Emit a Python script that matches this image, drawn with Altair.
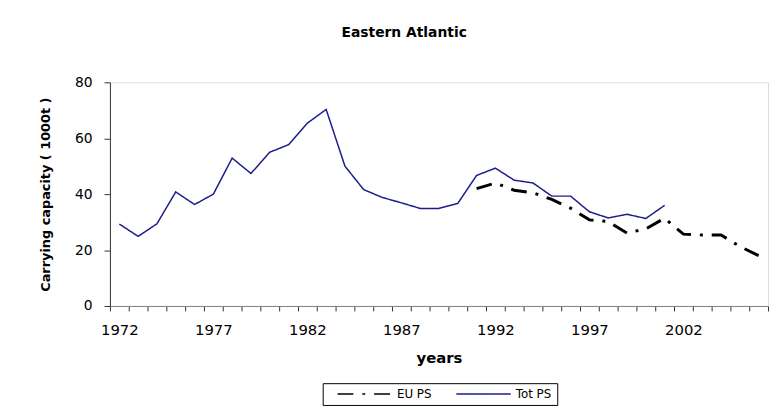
import altair as alt
import pandas as pd

years_tot = list(range(1972, 2002))
tot_ps = [29.3, 24.9, 29.4, 40.8, 36.3, 40.0, 52.9, 47.4, 55.0, 57.7,
          65.4, 70.3, 50.0, 41.6, 38.8, 36.9, 34.9, 34.9, 36.7, 46.7,
          49.3, 45.0, 44.0, 39.3, 39.3, 33.7, 31.5, 32.8, 31.3, 36.0]
years_eu = list(range(1991, 2007))
eu_ps = [42.0, 44.0, 41.4, 40.5, 38.1, 35.0, 30.8, 30.2, 26.1, 27.6,
         31.4, 25.7, 25.4, 25.4, 21.3, 18.0]
all_years = list(range(1972, 2007))

rows = [{"year": y, "value": v, "series": "EU PS"} for y, v in zip(years_eu, eu_ps)]
rows += [{"year": y, "value": v, "series": "Tot PS"} for y, v in zip(years_tot, tot_ps)]
df = pd.DataFrame(rows)

series = ["EU PS", "Tot PS"]

legend = alt.Legend(title=None, orient="none", legendX=215, legendY=304,
                    direction="horizontal", symbolType="M0.8,0H11.8",
                    symbolSize=100, symbolStrokeWidth=1.5,
                    labelFont="DejaVu Sans", labelFontSize=12,
                    labelColor="black", labelOffset=58,
                    columnPadding=14, padding=5,
                    strokeColor="black")

chart = alt.Chart(df).mark_line().encode(
    x=alt.X("year:O",
            scale=alt.Scale(type="band", domain=all_years, paddingInner=0, paddingOuter=0),
            axis=alt.Axis(title="years", labelAngle=0, tickBand="extent",
                          labelExpr="(toNumber(datum.value) - 1972) % 5 == 0 ? datum.label : ''",
                          labelOverlap=False, labelFlush=False,
                          labelFont="DejaVu Sans", labelFontSize=15, labelColor="black",
                          labelPadding=12, tickSize=5, tickColor="#333",
                          domainColor="#808080",
                          titleFont="DejaVu Sans", titleFontSize=15, titleFontWeight="bold",
                          titleColor="black", titlePadding=13)),
    y=alt.Y("value:Q",
            scale=alt.Scale(domain=[0, 80], nice=False),
            axis=alt.Axis(title="Carrying capacity ( 1000t )", values=[0, 20, 40, 60, 80],
                          grid=False, tickSize=6, tickColor="#333", domainColor="#333",
                          labelFont="DejaVu Sans", labelFontSize=14, labelColor="black",
                          labelPadding=12,
                          titleFont="DejaVu Sans", titleFontSize=13, titleFontWeight="bold",
                          titleColor="black", titlePadding=22)),
    color=alt.Color("series:N",
                    scale=alt.Scale(domain=series, range=["black", "#1c1c8c"]),
                    legend=legend),
    strokeDash=alt.StrokeDash("series:N",
                              scale=alt.Scale(domain=series, range=[[16, 9, 3, 9], [1, 0]]),
                              legend=legend),
    strokeWidth=alt.condition(alt.datum.series == "EU PS", alt.value(3), alt.value(1.5)),
).properties(
    width=665,
    height=226,
    title=alt.TitleParams("Eastern Atlantic", font="DejaVu Sans", fontSize=14,
                          fontWeight="bold", color="black", frame="bounds",
                          anchor="middle", offset=36),
    autosize=alt.AutoSizeParams(type="none"),
    padding={"left": 103, "top": 73, "right": 3, "bottom": 104},
).configure_view(
    stroke="#a0a0a0", strokeWidth=1.5
).configure(background="white")

chart.save("out.html", embed_options={"renderer": "svg", "actions": False})
